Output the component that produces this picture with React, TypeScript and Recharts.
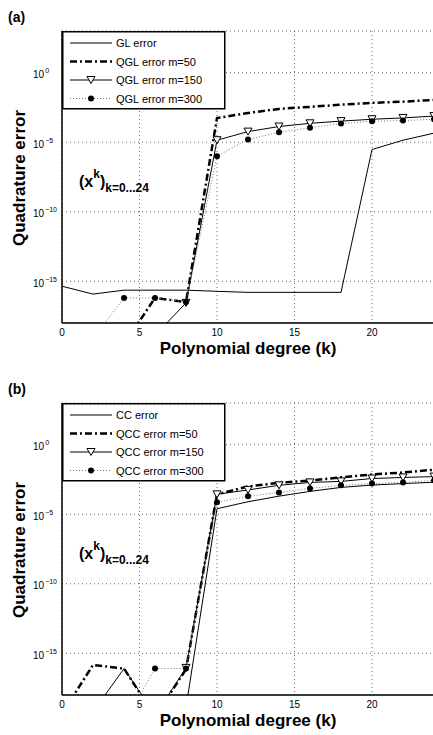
import React from 'react';
import { LineChart, Line, XAxis, YAxis, CartesianGrid } from 'recharts';

// polynomial degrees (even k only)
const degrees = [0, 2, 4, 6, 8, 10, 12, 14, 16, 18, 20, 22, 24];
const xTicks = [0, 5, 10, 15, 20];
const yTicks = [1e-15, 1e-10, 1e-5, 1];

// panel (a): Gauss-Legendre
const glError = [4.4e-16, 1.2e-16, 2.3e-16, 2.3e-16, 2.3e-16, 1.9e-16, 1.6e-16, 1.6e-16, 1.6e-16, 1.6e-16, 3e-6, 1.4e-5, 4.5e-5];
const qglM50 = [null, null, 3e-20, 6.3e-17, 3.2e-17, 5.5e-4, 1.26e-3, 2.5e-3, 3.5e-3, 5e-3, 6.8e-3, 8.3e-3, 1.1e-2];
const qglM150 = [null, null, null, 1.3e-19, 2.8e-17, 1.4e-5, 5.8e-5, 1.35e-4, 2.3e-4, 3.3e-4, 4.5e-4, 5.6e-4, 7.6e-4];
const qglM300 = [null, 8e-20, 6.3e-17, 6.3e-17, 3.2e-17, 1e-6, 1.6e-5, 5.2e-5, 1.1e-4, 2.2e-4, 3.2e-4, 3.6e-4, 4.5e-4];

// panel (b): Clenshaw-Curtis
const ccError = [null, 6.3e-20, 7.9e-17, 4e-20, 1.26e-19, 2.5e-5, 7.9e-5, 2e-4, 4.4e-4, 8.5e-4, 1.26e-3, 1.6e-3, 2e-3];
const qccM50 = [4.5e-20, 1.45e-16, 7.9e-17, 2.8e-20, 7e-17, 2.7e-4, 1e-3, 1.8e-3, 2.7e-3, 4.5e-3, 7.2e-3, 1e-2, 1.6e-2];
const qccM150 = [null, null, null, 3.2e-20, 8.9e-17, 2.7e-4, 5.6e-4, 1.2e-3, 1.95e-3, 2.3e-3, 3.7e-3, 4.4e-3, 5.1e-3];
const qccM300 = [null, null, 1e-20, 7.9e-17, 7.9e-17, 7.2e-5, 1.95e-4, 3.7e-4, 7.2e-4, 1.2e-3, 1.6e-3, 1.95e-3, 2.7e-3];

const FONT = '"Liberation Sans", Arial, Helvetica, sans-serif';
const DASH_DOT = '7 3 2 3';
const DOTTED = '1 2';

const buildData = (s0: any[], s1: any[], s2: any[], s3: any[]) =>
  degrees.map((k, i) => ({ k, s0: s0[i], s1: s1[i], s2: s2[i], s3: s3[i] }));

const TriDown = (props: any) => {
  const { cx, cy, value } = props;
  if (value == null || cx == null || cy == null) return <g />;
  return (
    <path
      d={`M${cx - 4},${cy - 3.5} L${cx + 4},${cy - 3.5} L${cx},${cy + 3.5} Z`}
      fill="#fff"
      stroke="#000"
      strokeWidth={1}
    />
  );
};

const FilledDot = (props: any) => {
  const { cx, cy, value } = props;
  if (value == null || cx == null || cy == null) return <g />;
  return <circle cx={cx} cy={cy} r={3} fill="#000" />;
};

const LogTick = (props: any) => {
  const { y, payload } = props;
  const exp = Math.round(Math.log10(payload.value));
  const sup = exp === 0 ? '0' : '\u2212' + Math.abs(exp);
  return (
    <text x={33} y={y + 5.5} fontSize={10} fontFamily={FONT} fill="#000">
      10
      <tspan dx={1} dy={-5} fontSize={7}>{sup}</tspan>
    </text>
  );
};

const Panel = ({ top, tag, names, data }: { top: number; tag: string; names: string[]; data: any[] }) => {
  const rows = [43, 61.5, 80, 98.5];
  return (
    <div style={{ position: 'absolute', left: 0, top, width: 440, height: 372 }}>
      <LineChart width={440} height={360} data={data} margin={{ top: 31, right: 6, bottom: 0, left: 0 }}>
        <CartesianGrid strokeDasharray="1 3" stroke="#444" strokeWidth={0.8} />
        <XAxis
          dataKey="k"
          type="number"
          domain={[0, 24]}
          ticks={xTicks}
          height={37}
          tickLine={false}
          tickSize={4}
          tickMargin={2}
          axisLine={{ stroke: '#000', strokeWidth: 1.5 }}
          tick={{ fontSize: 10, fill: '#000', fontFamily: FONT }}
        />
        <XAxis
          xAxisId="top"
          orientation="top"
          type="number"
          domain={[0, 24]}
          height={0}
          tick={false}
          tickLine={false}
          axisLine={{ stroke: '#000', strokeWidth: 1.5 }}
        />
        <YAxis
          type="number"
          scale="log"
          domain={[1e-18, 1e3]}
          allowDataOverflow
          ticks={yTicks}
          width={62}
          tickLine={false}
          axisLine={{ stroke: '#000', strokeWidth: 1.5 }}
          tick={<LogTick />}
        />
        <Line dataKey="s0" stroke="#000" strokeWidth={1} dot={false} isAnimationActive={false} />
        <Line dataKey="s1" stroke="#000" strokeWidth={2.5} strokeDasharray={DASH_DOT} dot={false} isAnimationActive={false} />
        <Line dataKey="s2" stroke="#000" strokeWidth={1} dot={<TriDown />} isAnimationActive={false} />
        <Line dataKey="s3" stroke="#777" strokeWidth={1} strokeDasharray={DOTTED} dot={<FilledDot />} isAnimationActive={false} />
      </LineChart>
      <svg
        width={433}
        height={372}
        style={{ position: 'absolute', left: 0, top: 0, pointerEvents: 'none' }}
        fontFamily={FONT}
      >
        <text x={8} y={22} fontSize={14} fontWeight="bold">{tag}</text>
        <text
          transform="translate(25,178) rotate(-90)"
          textAnchor="middle"
          fontSize={17}
          fontWeight="bold"
        >
          Quadrature error
        </text>
        <text x={248} y={354} textAnchor="middle" fontSize={17} fontWeight="bold">
          Polynomial degree (k)
        </text>
        <text x={79} y={187} fontSize={16} fontWeight="bold">
          (x<tspan dy={-9} fontSize={12}>k</tspan>
          <tspan dy={9}>)</tspan>
          <tspan dy={5} fontSize={12}>k=0...24</tspan>
        </text>
        <rect x={62.75} y={31.75} width={162} height={77} fill="#fff" stroke="#000" strokeWidth={1.5} />
        <line x1={70} x2={112} y1={rows[0]} y2={rows[0]} stroke="#000" strokeWidth={1} />
        <line x1={70} x2={112} y1={rows[1]} y2={rows[1]} stroke="#000" strokeWidth={2.5} strokeDasharray={DASH_DOT} />
        <line x1={70} x2={112} y1={rows[2]} y2={rows[2]} stroke="#000" strokeWidth={1} />
        <TriDown cx={91} cy={rows[2]} value={1} />
        <line x1={70} x2={112} y1={rows[3]} y2={rows[3]} stroke="#777" strokeWidth={1} strokeDasharray={DOTTED} />
        <FilledDot cx={91} cy={rows[3]} value={1} />
        {names.map((n, i) => (
          <text key={n} x={116} y={rows[i] + 4} fontSize={11}>{n}</text>
        ))}
      </svg>
    </div>
  );
};

export default function App() {
  const dataA = buildData(glError, qglM50, qglM150, qglM300);
  const dataB = buildData(ccError, qccM50, qccM150, qccM300);
  return (
    <div style={{ position: 'absolute', left: 0, top: 0, width: 433, height: 735, overflow: 'hidden', background: '#fff' }}>
      <Panel
        top={0}
        tag="(a)"
        data={dataA}
        names={['GL error', 'QGL error m=50', 'QGL error m=150', 'QGL error m=300']}
      />
      <Panel
        top={372}
        tag="(b)"
        data={dataB}
        names={['CC error', 'QCC error m=50', 'QCC error m=150', 'QCC error m=300']}
      />
    </div>
  );
}
